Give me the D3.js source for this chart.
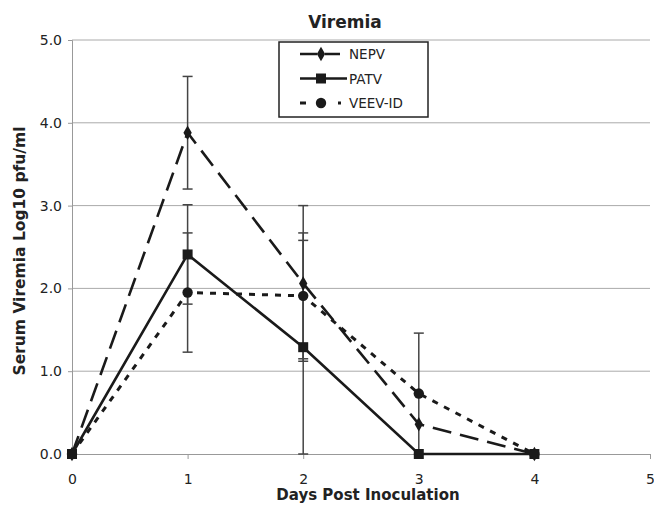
<!doctype html>
<html lang="en">
<head>
<meta charset="utf-8">
<title>Viremia</title>
<script src="https://d3js.org/d3.v7.min.js"></script>
<style>
  body { margin: 0; background: #fff; }
  text { font-family: "DejaVu Sans", Verdana, sans-serif; fill: #222; }
</style>
</head>
<body>
<div id="main"></div>
<script>
const days = [0, 1, 2, 3, 4]
const seriesNames = ['NEPV', 'PATV', 'VEEV-ID']
const nepv = [0, 3.88, 2.06, 0.36, 0]
const patv = [0, 2.41, 1.29, 0, 0]
const veev = [0, 1.95, 1.91, 0.73, 0]
const nepvErr = [0, 0.68, 0.94, 0, 0]
const patvErr = [0, 0.60, 1.29, 0, 0]
const veevErr = [0, 0.72, 0.76, 0.73, 0]
const xTicks = [0, 1, 2, 3, 4, 5]
const yTicks = [0, 1, 2, 3, 4, 5]

const W = 654, H = 505
const m = {left: 72, right: 4, top: 40, bottom: 51}

const svg = d3.select('#main').append('svg')
  .attr('width', W).attr('height', H)

const x = d3.scaleLinear().domain([0, 5]).range([m.left, W - m.right])
const y = d3.scaleLinear().domain([0, 5]).range([H - m.bottom, m.top])

// gridlines
svg.append('g').selectAll('line').data(yTicks.slice(1)).enter().append('line')
  .attr('x1', m.left).attr('x2', W - m.right)
  .attr('y1', d => y(d)).attr('y2', d => y(d))
  .attr('stroke', '#aaa').attr('stroke-width', 1)

// axes
const yAxis = svg.append('g').attr('transform', `translate(${m.left},0)`)
  .call(d3.axisLeft(y).tickValues(yTicks).tickFormat(d3.format('.1f')).tickSize(4).tickPadding(6))
const xAxis = svg.append('g').attr('transform', `translate(0,${y(0)})`)
  .call(d3.axisBottom(x).tickValues(xTicks).tickFormat(d3.format('d')).tickSize(5).tickPadding(15))
;[yAxis, xAxis].forEach(a => {
  a.select('.domain').attr('stroke', '#999')
  a.selectAll('.tick line').attr('stroke', '#999')
  a.selectAll('.tick text').style('font-size', '14px').attr('fill', '#222')
})

const series = [
  {name: seriesNames[0], vals: nepv, err: nepvErr, dash: '19,9', legDash: '17,8,15', width: 2.6, shape: d3.symbolDiamond, size: 60},
  {name: seriesNames[1], vals: patv, err: patvErr, dash: null, legDash: null, width: 2.6, shape: d3.symbolSquare, size: 100},
  {name: seriesNames[2], vals: veev, err: veevErr, dash: '6,7', legDash: '6,32,6', width: 3, shape: d3.symbolCircle, size: 85}
]

// error bars
series.forEach(s => {
  const g = svg.append('g')
  days.forEach((d, i) => {
    if (!s.err[i]) return
    const lo = y(s.vals[i] - s.err[i]), hi = y(s.vals[i] + s.err[i])
    g.append('line').attr('x1', x(d)).attr('x2', x(d)).attr('y1', lo).attr('y2', hi)
      .attr('stroke', '#444').attr('stroke-width', 1.5)
    ;[lo, hi].forEach(v => g.append('line')
      .attr('x1', x(d) - 5).attr('x2', x(d) + 5).attr('y1', v).attr('y2', v)
      .attr('stroke', '#444').attr('stroke-width', 1.5))
  })
})

const line = d3.line().x((d, i) => x(days[i])).y(d => y(d))

series.forEach(s => {
  svg.append('path').datum(s.vals)
    .attr('d', line)
    .attr('fill', 'none')
    .attr('stroke', '#1a1a1a')
    .attr('stroke-width', s.width)
    .attr('stroke-dasharray', s.dash)
  svg.append('g').selectAll('path').data(s.vals).enter().append('path')
    .attr('d', d3.symbol().type(s.shape).size(s.size))
    .attr('transform', (d, i) => `translate(${x(days[i])},${y(d)})`)
    .attr('fill', '#1a1a1a')
})

// legend
const lg = svg.append('g')
lg.append('rect').attr('x', 279).attr('y', 42).attr('width', 149).attr('height', 75)
  .attr('fill', '#fff').attr('stroke', '#222').attr('stroke-width', 1.5)
series.forEach((s, i) => {
  const ly = 54 + i * 24.5
  lg.append('line').attr('x1', 300).attr('x2', s.legDash ? 341 : 347).attr('y1', ly).attr('y2', ly)
    .attr('stroke', '#1a1a1a').attr('stroke-width', s.width)
    .attr('stroke-dasharray', s.legDash)
  lg.append('path').attr('d', d3.symbol().type(s.shape).size(s.size))
    .attr('transform', `translate(321,${ly})`).attr('fill', '#1a1a1a')
  lg.append('text').attr('x', 349).attr('y', ly + 5)
    .style('font-size', '13.5px').text(s.name)
})

// titles
svg.append('text').attr('x', 345).attr('y', 28).attr('text-anchor', 'middle')
  .style('font-size', '17px').style('font-weight', 'bold').text('Viremia')
svg.append('text').attr('transform', 'translate(25,251) rotate(-90)')
  .attr('text-anchor', 'middle')
  .style('font-size', '15.5px').style('font-weight', 'bold').text('Serum Viremia Log10 pfu/ml')
svg.append('text').attr('x', 368).attr('y', 500).attr('text-anchor', 'middle')
  .style('font-size', '15px').style('font-weight', 'bold').text('Days Post Inoculation')
</script>
</body>
</html>
